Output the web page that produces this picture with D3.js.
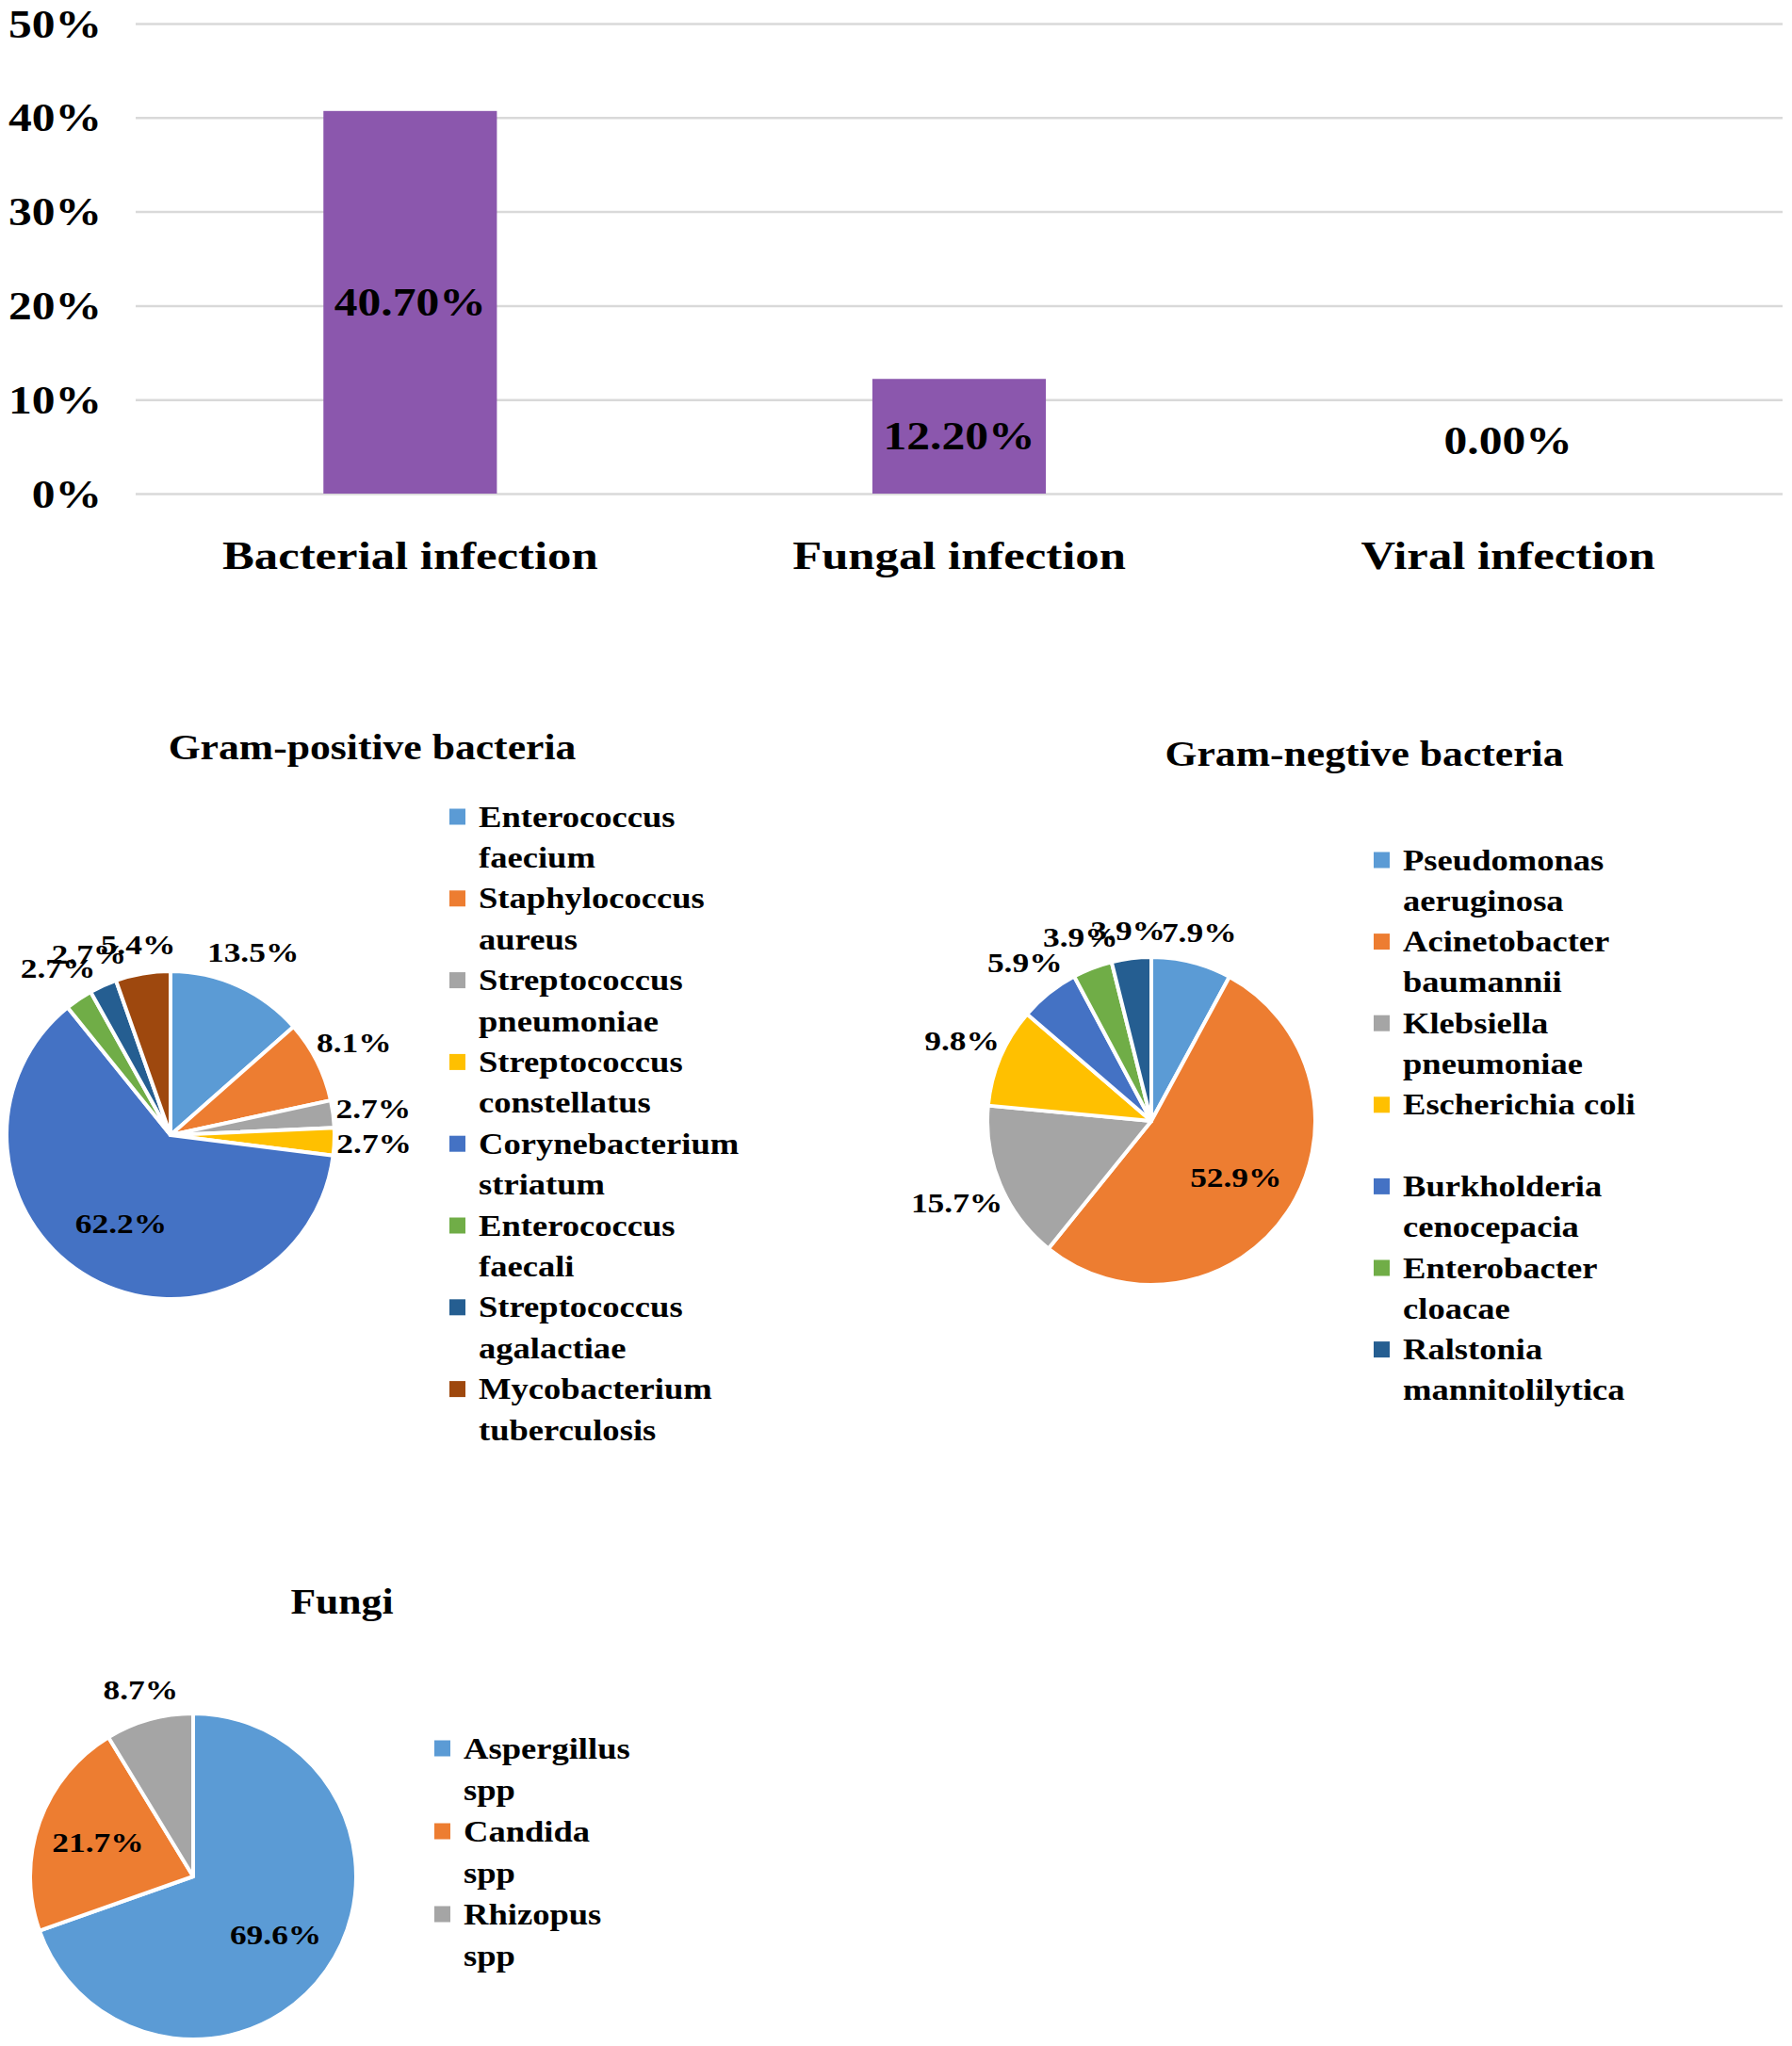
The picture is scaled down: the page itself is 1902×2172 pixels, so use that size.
<!DOCTYPE html>
<html><head><meta charset="utf-8">
<script src="https://cdn.jsdelivr.net/npm/d3@7"></script>
<style>
html,body{margin:0;padding:0;background:#fff;}
svg{display:block;font-family:"Liberation Serif","Times New Roman",serif;font-weight:bold;}
text{font-family:"Liberation Serif","Times New Roman",serif;font-weight:bold;fill:#000;}
</style></head><body><div id="chart"></div>
<script>
// ---------- data ----------
const barCategories = ["Bacterial infection", "Fungal infection", "Viral infection"];
const barValues = [40.7, 12.2, 0.0];
const barTicks = [0, 10, 20, 30, 40, 50];

const gpNames = ["Enterococcus faecium", "Staphylococcus aureus", "Streptococcus pneumoniae",
  "Streptococcus constellatus", "Corynebacterium striatum", "Enterococcus faecali",
  "Streptococcus agalactiae", "Mycobacterium tuberculosis"];
const gpValues = [13.5, 8.1, 2.7, 2.7, 62.2, 2.7, 2.7, 5.4];

const gnNames = ["Pseudomonas aeruginosa", "Acinetobacter baumannii", "Klebsiella pneumoniae",
  "Escherichia coli", "Burkholderia cenocepacia", "Enterobacter cloacae", "Ralstonia mannitolilytica"];
const gnValues = [7.9, 52.9, 15.7, 9.8, 5.9, 3.9, 3.9];

const fungiNames = ["Aspergillus spp", "Candida spp", "Rhizopus spp"];
const fungiValues = [69.6, 21.7, 8.7];

// ---------- style ----------
const pieColors = ["#5B9BD5", "#ED7D31", "#A5A5A5", "#FFC000", "#4472C4", "#70AD47", "#255E91", "#9E480E"];
const barColor = "#8b57ad";
const SX = 1.18;
const W = 1902, H = 2172;

const svg = d3.select("#chart").append("svg").attr("width", W).attr("height", H);
svg.append("rect").attr("width", W).attr("height", H).attr("fill", "#fff");

function stext(g, x, y, str, size, anchor) {
  return g.append("text")
    .attr("transform", `translate(${x},${y}) scale(${SX},1)`)
    .attr("text-anchor", anchor || "middle")
    .attr("dominant-baseline", "central")
    .style("font-size", size + "px")
    .text(str);
}

// ---------- bar chart ----------
const plot = { left: 144, right: 1892, top: 25, bottom: 524 };
const x = d3.scaleBand().domain(barCategories).range([plot.left, plot.right])
  .paddingInner(0.684).paddingOuter(0.342);
const y = d3.scaleLinear().domain([0, 50]).range([plot.bottom, plot.top]);

const grid = svg.append("g").attr("transform", `translate(${plot.left},0)`)
  .call(d3.axisLeft(y).tickValues(barTicks).tickSize(-(plot.right - plot.left)).tickFormat(d => d + "%"));
grid.attr("font-family", null).attr("font-size", null);
grid.select(".domain").remove();
grid.selectAll(".tick line").attr("stroke", "#d9d9d9").attr("stroke-width", 2.5);
grid.selectAll(".tick text").attr("x", null).attr("dy", null)
  .attr("transform", `translate(-36,0) scale(${SX},1)`)
  .attr("dominant-baseline", "central").attr("fill", "#000")
  .style("font-size", "42px");

svg.append("g").selectAll("rect").data(barValues).join("rect")
  .attr("x", (d, i) => x(barCategories[i]))
  .attr("y", d => y(d))
  .attr("width", x.bandwidth())
  .attr("height", d => y(0) - y(d))
  .attr("fill", barColor);

const xa = svg.append("g").attr("transform", `translate(0,${plot.bottom})`)
  .call(d3.axisBottom(x).tickSize(0));
xa.attr("font-family", null).attr("font-size", null);
xa.select(".domain").remove();
xa.selectAll(".tick text").attr("y", null).attr("dy", null)
  .attr("transform", `translate(0,65) scale(${SX},1)`)
  .attr("dominant-baseline", "central").attr("fill", "#000")
  .style("font-size", "43px");

const vl = svg.append("g");
barValues.forEach((v, i) => {
  const cx = x(barCategories[i]) + x.bandwidth() / 2;
  const cy = Math.min(y(v / 2), y(0) - 56);
  stext(vl, cx, cy, d3.format(".2f")(v) + "%", 42, "middle");
});

// ---------- pies ----------
function drawPie(cfg) {
  const g = svg.append("g");
  stext(g, cfg.titleX, cfg.titleY, cfg.title, 37, "middle");
  const pg = g.append("g").attr("transform", `translate(${cfg.cx},${cfg.cy})`);
  const arcs = d3.pie().sort(null).value(d => d)(cfg.values);
  const arc = d3.arc().innerRadius(0).outerRadius(cfg.r);
  pg.selectAll("path").data(arcs).join("path")
    .attr("d", arc)
    .attr("fill", (d, i) => pieColors[i])
    .attr("stroke", "#fff").attr("stroke-width", 4).attr("stroke-linejoin", "round");

  arcs.forEach(a => {
    const mid = (a.startAngle + a.endAngle) / 2;
    const s = Math.sin(mid), c = -Math.cos(mid);
    const label = d3.format(".1f")(a.data) + "%";
    if (a.data >= 20) {
      const d = cfg.r * 0.62;
      stext(pg, s * d, c * d, label, 30, "middle");
    } else {
      const t = stext(pg, 0, 0, label, 30, "middle");
      const w = t.node().getComputedTextLength() * SX;
      const d = cfg.r + 14 + Math.abs(s) * (w / 2) * 0.7 + Math.abs(c) * 12;
      t.attr("transform", `translate(${s * d},${c * d}) scale(${SX},1)`);
    }
  });

  // legend
  const lg = g.append("g");
  const measure = lg.append("text").style("font-size", "31px").attr("visibility", "hidden");
  const tw = str => { measure.text(str); return measure.node().getComputedTextLength() * SX; };
  cfg.names.forEach((name, i) => {
    const words = name.split(" ");
    const lines = [];
    let cur = "";
    words.forEach(wd => {
      const test = cur ? cur + " " + wd : wd;
      if (cur && tw(test) > cfg.wrap) { lines.push(cur); cur = wd; } else cur = test;
    });
    lines.push(cur);
    const y0 = cfg.legendY + i * 2 * cfg.lineH;
    lg.append("rect").attr("x", cfg.legendX).attr("y", y0 - 8.5)
      .attr("width", 17).attr("height", 17).attr("fill", pieColors[i]);
    lines.forEach((ln, j) => stext(lg, cfg.legendX + 31, y0 + j * cfg.lineH, ln, 31, "start"));
  });
  measure.remove();
}

drawPie({ title: "Gram-positive bacteria", titleX: 395, titleY: 794,
  cx: 181, cy: 1205, r: 174, names: gpNames, values: gpValues,
  legendX: 477, legendY: 867, lineH: 43.4, wrap: 300 });

drawPie({ title: "Gram-negtive bacteria", titleX: 1448, titleY: 801,
  cx: 1222, cy: 1190, r: 174, names: gnNames, values: gnValues,
  legendX: 1458, legendY: 913, lineH: 43.3, wrap: 290 });

drawPie({ title: "Fungi", titleX: 363, titleY: 1701,
  cx: 205, cy: 1992, r: 173, names: fungiNames, values: fungiValues,
  legendX: 461, legendY: 1856, lineH: 44, wrap: 185 });
</script></body></html>
